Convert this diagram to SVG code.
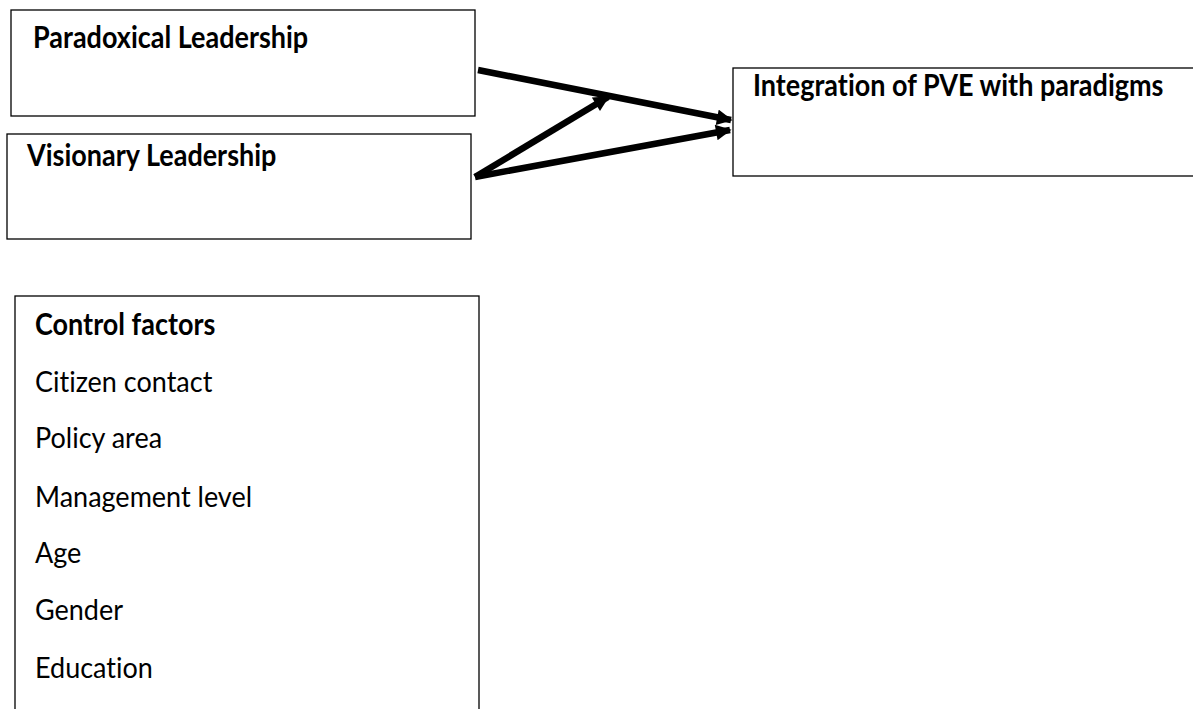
<svg xmlns="http://www.w3.org/2000/svg" width="1193" height="709" viewBox="0 0 1193 709">
<style>
.box{fill:#fff;stroke:#000;stroke-width:1.3}
.t{font-family:Lato,"Open Sans","Liberation Sans",sans-serif;font-size:27px;fill:#000;font-variant-ligatures:none}
.b{font-weight:bold}
.c{fill:none;stroke:#000;stroke-width:6.5}
</style>
<defs>
<marker id="ah" viewBox="0 0 10 10" refX="9" refY="5" markerWidth="2.6" markerHeight="2.4" orient="auto" markerUnits="strokeWidth">
<path d="M0,0 L10,5 L0,10 z" fill="#000"/>
</marker>
</defs>
<rect width="1193" height="709" fill="#fff"/>
<g id="node-paradoxical">
<rect class="box" x="11" y="10" width="464" height="106"/>
<text class="t b" transform="translate(33,48) scale(1,1.1)">Paradoxical Leadership</text>
</g>
<g id="node-visionary">
<rect class="box" x="7" y="134" width="464" height="105"/>
<text class="t b" transform="translate(27,166) scale(1,1.1)">Visionary Leadership</text>
</g>
<g id="node-integration">
<rect class="box" x="733" y="68" width="470" height="108"/>
<text class="t b" transform="translate(753,96) scale(1,1.1)">Integration of PVE with paradigms</text>
</g>
<g id="node-control">
<rect class="box" x="15" y="296" width="464" height="430"/>
<text class="t b" transform="translate(35,335) scale(1,1.1)">Control factors</text>
<text class="t" transform="translate(35,392) scale(1,1.1)">Citizen contact</text>
<text class="t" transform="translate(35,448) scale(1,1.1)">Policy area</text>
<text class="t" transform="translate(35,507) scale(1,1.1)">Management level</text>
<text class="t" transform="translate(35,563) scale(1,1.1)">Age</text>
<text class="t" transform="translate(35,620) scale(1,1.1)">Gender</text>
<text class="t" transform="translate(35,678) scale(1,1.1)">Education</text>
</g>
<g id="connectors">
<line class="c" x1="478" y1="70" x2="731" y2="120" marker-end="url(#ah)"/>
<line class="c" x1="475" y1="177" x2="730" y2="130" marker-end="url(#ah)"/>
<line class="c" x1="475" y1="177" x2="608" y2="97" marker-end="url(#ah)"/>
</g>
</svg>
